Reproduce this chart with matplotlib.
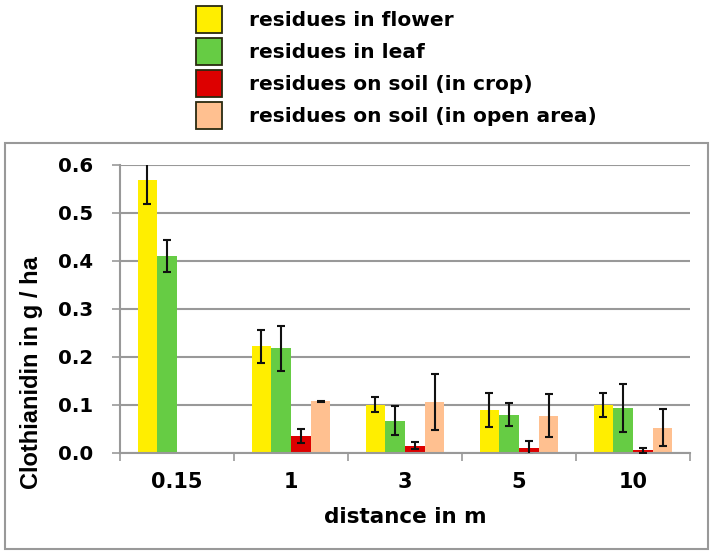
import numpy as np
import matplotlib
matplotlib.use("Agg")
import matplotlib.pyplot as plt
from matplotlib.patches import Rectangle, Patch

plt.rcParams['font.family'] = ['DejaVu Sans']
plt.rcParams['font.weight'] = 'bold'

categories = ["0.15", "1", "3", "5", "10"]
series_names = ["residues in flower", "residues in leaf",
                "residues on soil (in crop)", "residues on soil (in open area)"]
flower = [0.569, 0.222, 0.101, 0.089, 0.099]
flower_err = [0.050, 0.035, 0.015, 0.035, 0.025]
leaf = [0.411, 0.218, 0.067, 0.080, 0.093]
leaf_err = [0.033, 0.047, 0.030, 0.024, 0.050]
soil_crop = [np.nan, 0.035, 0.015, 0.010, 0.006]
soil_crop_err = [np.nan, 0.015, 0.007, 0.014, 0.005]
soil_open = [np.nan, 0.108, 0.106, 0.078, 0.053]
soil_open_err = [np.nan, 0.001, 0.058, 0.044, 0.038]
yticks = [0.0, 0.1, 0.2, 0.3, 0.4, 0.5, 0.6]

values = [flower, leaf, soil_crop, soil_open]
errors = [flower_err, leaf_err, soil_crop_err, soil_open_err]
colors = ["#FFEE00", "#66CC44", "#DD0000", "#FFC090"]

W, H = 712, 556
fig = plt.figure(figsize=(W / 100, H / 100), dpi=100)
ax = fig.add_axes([120 / W, 1 - 453 / H, 570 / W, 288 / H])

x = np.arange(len(categories))
w = 0.173
for j, (vals, errs, c, name) in enumerate(zip(values, errors, colors, series_names)):
    pos = x + (j - 1.5) * w
    ax.bar(pos, vals, width=w, color=c, label=name, zorder=2, linewidth=0)
    ax.errorbar(pos, vals, yerr=errs, fmt='none', ecolor='#111111',
                elinewidth=1.5, capsize=2.7, capthick=1.5, zorder=3)

ax.set_xlim(-0.5, len(categories) - 0.5)
ax.set_ylim(0, 0.6)
ax.set_yticks(yticks)
ax.set_yticklabels([f"{v:.1f}" for v in yticks], fontsize=14.2, fontweight='bold')
ax.set_xticks(x)
ax.set_xticklabels(categories, fontsize=15, fontweight='bold')
ax.set_xticks(np.arange(len(categories) + 1) - 0.5, minor=True)
ax.tick_params(axis='x', which='major', length=0, pad=14)
ax.tick_params(axis='x', which='minor', length=6, color='#999999', width=1.2, direction='out')
ax.tick_params(axis='y', length=6, color='#999999', width=1.2, pad=13)
ax.yaxis.grid(True, color='#999999', linewidth=1.5, zorder=0)
ax.set_axisbelow(True)
for s in ['top', 'right']:
    ax.spines[s].set_visible(False)
for s in ['left', 'bottom']:
    ax.spines[s].set_color('#999999')
    ax.spines[s].set_linewidth(1.5)

ax.set_xlabel("distance in m", fontsize=15.5, fontweight='bold')
ax.xaxis.label.set_va('center')
ax.xaxis.set_label_coords(0.5, (453 - 517) / 288)
ax.set_ylabel("Clothianidin in g / ha", fontsize=17, fontweight='bold',
              family=['Liberation Sans', 'DejaVu Sans'])
ax.yaxis.label.set_va('center')
ax.yaxis.label.set_ha('center')
ax.yaxis.set_label_coords((32 - 120) / 570, (453 - 373) / 288)

leg_handles = [Patch(facecolor=c, edgecolor='#2a2a10', linewidth=1.3) for c in colors]
fig.legend(leg_handles, series_names, loc='upper left',
           bbox_to_anchor=(196 / W, 1 - 6 / H), frameon=False,
           prop={'size': 14.5, 'weight': 'bold'},
           handlelength=1.3, handleheight=1.7, labelspacing=0.24,
           handletextpad=1.35, borderpad=0, borderaxespad=0)

fig.patches.append(Rectangle((5 / W, 1 - 549 / H), 703 / W, 406 / H,
                             transform=fig.transFigure, fill=False,
                             edgecolor='#999999', linewidth=1.5))

fig.savefig("out.png", dpi=100)
